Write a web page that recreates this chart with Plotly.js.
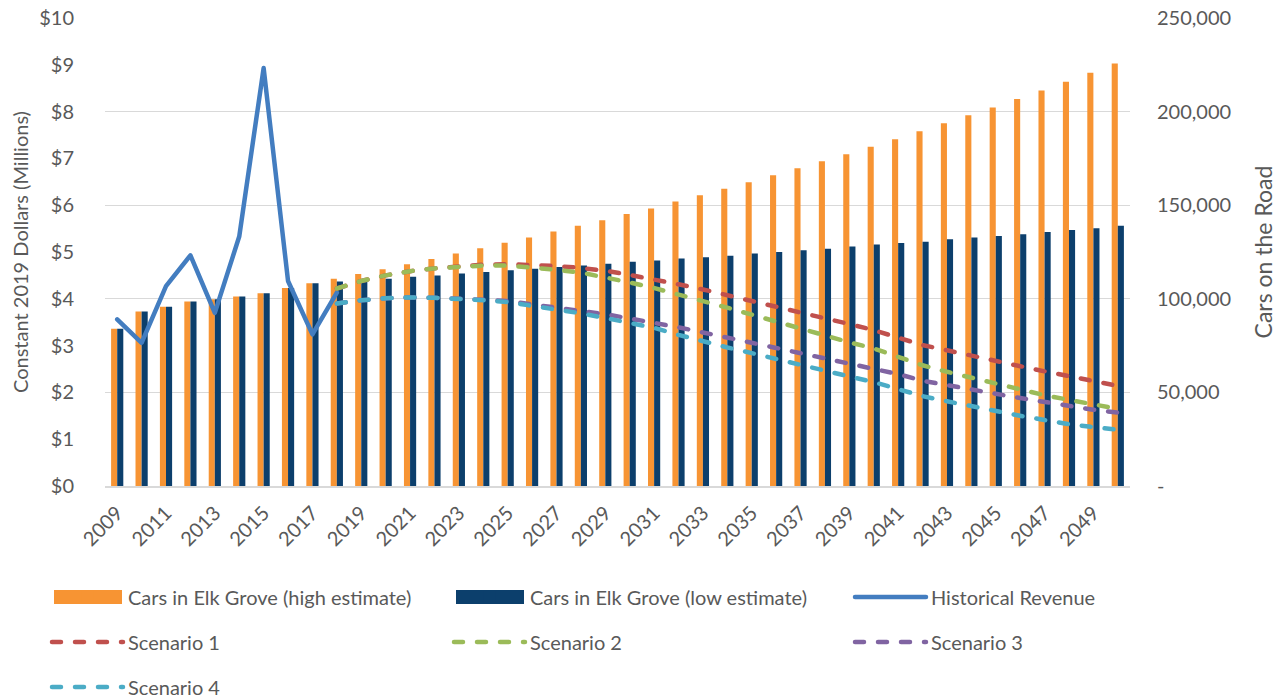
<!DOCTYPE html>
<html>
<head>
<meta charset="utf-8">
<script src="https://cdn.plot.ly/plotly-3.0.1.min.js"></script>
<style>
  html, body { margin: 0; padding: 0; background: #fff; }
  #chart { width: 1286px; height: 698px; }
  .js-line { stroke-linecap: round; stroke-linejoin: round; }
</style>
</head>
<body>
<div id="chart"></div>
<script>
// ---- data ----
const years = ['2009','2010','2011','2012','2013','2014','2015','2016','2017','2018',
  '2019','2020','2021','2022','2023','2024','2025','2026','2027','2028',
  '2029','2030','2031','2032','2033','2034','2035','2036','2037','2038',
  '2039','2040','2041','2042','2043','2044','2045','2046','2047','2048',
  '2049','2050'];
const xTickYears = ['2009','2011','2013','2015','2017','2019','2021','2023','2025','2027',
  '2029','2031','2033','2035','2037','2039','2041','2043','2045','2047','2049'];

const carsHigh = [84000, 93250, 95750, 98500, 99750, 101250, 103000, 105750, 108250, 110750,
  113250, 115750, 118500, 121250, 124250, 127000, 130000, 132750, 136000, 139000,
  142000, 145250, 148250, 152000, 155250, 158750, 162250, 166000, 169750, 173500,
  177250, 181250, 185250, 189500, 193750, 198000, 202250, 206750, 211250, 216000,
  220750, 225750];
const carsLow = [84000, 93250, 95750, 98500, 99750, 101250, 103000, 105750, 108250, 109250,
  110000, 110750, 111750, 112500, 113500, 114250, 115250, 116000, 117000, 117750,
  118750, 119750, 120500, 121500, 122250, 123000, 124250, 125000, 126000, 126750,
  128000, 129000, 129750, 130500, 131750, 132750, 133500, 134500, 135750, 136750,
  137750, 139000];

const histYears = ['2009','2010','2011','2012','2013','2014','2015','2016','2017','2018'];
const histRevenue = [3.56, 3.06, 4.27, 4.93, 3.70, 5.33, 8.93, 4.38, 3.24, 4.13];

const scenYears = ['2018','2019','2020','2021','2022','2023','2024','2025','2026','2027',
  '2028','2029','2030','2031','2032','2033','2034','2035','2036','2037',
  '2038','2039','2040','2041','2042','2043','2044','2045','2046','2047',
  '2048','2049','2050'];
const scenario1 = [4.22, 4.38, 4.50, 4.59, 4.65, 4.70, 4.73, 4.74, 4.73, 4.70,
  4.66, 4.60, 4.51, 4.42, 4.31, 4.20, 4.08, 3.95, 3.83, 3.71,
  3.59, 3.46, 3.33, 3.16, 3.01, 2.90, 2.78, 2.67, 2.56, 2.45,
  2.34, 2.24, 2.14];
const scenario2 = [4.22, 4.38, 4.50, 4.59, 4.65, 4.69, 4.71, 4.71, 4.67, 4.62,
  4.56, 4.46, 4.35, 4.23, 4.10, 3.95, 3.81, 3.66, 3.51, 3.37,
  3.22, 3.07, 2.94, 2.76, 2.58, 2.44, 2.31, 2.19, 2.07, 1.94,
  1.84, 1.74, 1.65];
const scenario3 = [3.90, 3.97, 4.01, 4.03, 4.02, 4.01, 3.98, 3.95, 3.88, 3.82,
  3.75, 3.67, 3.58, 3.49, 3.39, 3.28, 3.16, 3.06, 2.95, 2.84,
  2.73, 2.62, 2.51, 2.39, 2.25, 2.15, 2.06, 1.97, 1.88, 1.79,
  1.71, 1.63, 1.57];
const scenario4 = [3.90, 3.97, 4.01, 4.03, 4.02, 4.00, 3.97, 3.93, 3.85, 3.78,
  3.69, 3.59, 3.49, 3.38, 3.23, 3.09, 2.96, 2.84, 2.71, 2.59,
  2.47, 2.34, 2.22, 2.08, 1.92, 1.81, 1.70, 1.60, 1.50, 1.41,
  1.32, 1.26, 1.20];

const leftTickVals = [0,1,2,3,4,5,6,7,8,9,10];
const leftTickText = ['$0','$1','$2','$3','$4','$5','$6','$7','$8','$9','$10'];
const rightTickVals = [0, 50000, 100000, 150000, 200000, 250000];
const rightTickText = ['-', '50,000', '100,000', '150,000', '200,000', '250,000'];

// ---- style ----
const FONT = 'Lato, "Open Sans", "Liberation Sans", sans-serif';
const TXT = '#595959';
const GRID = '#D9D9D9';
const DASH = '9px,14px';
const C_HIGH = '#F79433', C_LOW = '#0C3F6C';

const traces = [
  { type: 'bar', name: 'Cars in Elk Grove (high estimate)', x: years, y: carsHigh,
    xaxis: 'x', yaxis: 'y', marker: { color: C_HIGH, line: { width: 0 } }, legend: 'legend' },
  { type: 'bar', name: 'Cars in Elk Grove (low estimate)', x: years, y: carsLow,
    xaxis: 'x', yaxis: 'y', marker: { color: C_LOW, line: { width: 0 } }, legend: 'legend2' },
  { type: 'scatter', mode: 'lines', name: 'Historical Revenue', x: histYears, y: histRevenue,
    xaxis: 'x', yaxis: 'y2', line: { color: '#437DC0', width: 4.5 }, legend: 'legend3' },
  { type: 'scatter', mode: 'lines', name: 'Scenario 1', x: scenYears, y: scenario1,
    xaxis: 'x', yaxis: 'y2', line: { color: '#C0504D', width: 4.5, dash: DASH }, legend: 'legend4' },
  { type: 'scatter', mode: 'lines', name: 'Scenario 2', x: scenYears, y: scenario2,
    xaxis: 'x', yaxis: 'y2', line: { color: '#9BBB59', width: 4.5, dash: DASH }, legend: 'legend5' },
  { type: 'scatter', mode: 'lines', name: 'Scenario 3', x: scenYears, y: scenario3,
    xaxis: 'x', yaxis: 'y2', line: { color: '#8064A2', width: 4.5, dash: DASH }, legend: 'legend6' },
  { type: 'scatter', mode: 'lines', name: 'Scenario 4', x: scenYears, y: scenario4,
    xaxis: 'x', yaxis: 'y2', line: { color: '#4BACC6', width: 4.5, dash: DASH }, legend: 'legend7' }
];

// legend grid: 3 columns, 3 rows (container fractions)
const W = 1286, H = 698;
const colX = [47 / W, 449 / W, 850 / W];
const rowY = [(H - 597) / H, (H - 642) / H, (H - 687) / H];

function leg(col, row) {
  return {
    orientation: 'h', xref: 'container', yref: 'container',
    x: colX[col], xanchor: 'left', y: rowY[row], yanchor: 'middle',
    font: { family: FONT, size: 20, color: TXT },
    itemwidth: 71, bgcolor: 'rgba(0,0,0,0)', borderwidth: 0,
    itemclick: false, itemdoubleclick: false
  };
}

// wide colour keys for the two bar series (legend key boxes, paper coords)
const plotL = 105, plotW = 1025, plotB = 486, plotH = 468;
function px2paperX(p) { return (p - plotL) / plotW; }
function px2paperY(p) { return (plotB - p) / plotH; }
const legendKeys = [
  { type: 'rect', xref: 'paper', yref: 'paper', layer: 'above',
    x0: px2paperX(54), x1: px2paperX(122), y0: px2paperY(590), y1: px2paperY(604),
    fillcolor: C_HIGH, line: { width: 0 } },
  { type: 'rect', xref: 'paper', yref: 'paper', layer: 'above',
    x0: px2paperX(456), x1: px2paperX(524), y0: px2paperY(590), y1: px2paperY(604),
    fillcolor: C_LOW, line: { width: 0 } }
];

const layout = {
  width: W, height: H,
  margin: { l: 105, r: 156, t: 18, b: 212, pad: 0 },
  paper_bgcolor: '#ffffff', plot_bgcolor: '#ffffff',
  font: { family: FONT, size: 20, color: TXT },
  barmode: 'group', bargap: 0.5, bargroupgap: 0,
  xaxis: {
    type: 'category', tickmode: 'array', tickvals: xTickYears, ticktext: xTickYears,
    tickangle: -45, ticks: '', showgrid: false, zeroline: false,
    showline: true, linecolor: GRID, linewidth: 1.5,
    tickfont: { family: FONT, size: 20, color: TXT }, ticklabelstandoff: 6
  },
  yaxis: {
    side: 'right', range: [0, 250000], tickmode: 'array',
    tickvals: rightTickVals, ticktext: rightTickText,
    showgrid: true, gridcolor: GRID, gridwidth: 1.3, zeroline: false, ticks: '',
    tickfont: { family: FONT, size: 20, color: TXT }, ticklabelstandoff: 26,
    title: { text: 'Cars on the Road', font: { family: FONT, size: 23, color: TXT }, standoff: 25 }
  },
  yaxis2: {
    overlaying: 'y', side: 'left', range: [0, 10], tickmode: 'array',
    tickvals: leftTickVals, ticktext: leftTickText,
    showgrid: false, zeroline: false, ticks: '',
    tickfont: { family: FONT, size: 20, color: TXT }, ticklabelstandoff: 30,
    title: { text: 'Constant 2019 Dollars (Millions)', font: { family: FONT, size: 20, color: TXT }, standoff: 5 }
  },
  legend: leg(0, 0),
  legend2: leg(1, 0),
  legend3: leg(2, 0),
  legend4: leg(0, 1),
  legend5: leg(1, 1),
  legend6: leg(2, 1),
  legend7: leg(0, 2),
  shapes: legendKeys,
  showlegend: true
};

Plotly.newPlot('chart', traces, layout, { displayModeBar: false, staticPlot: true });
</script>
</body>
</html>
